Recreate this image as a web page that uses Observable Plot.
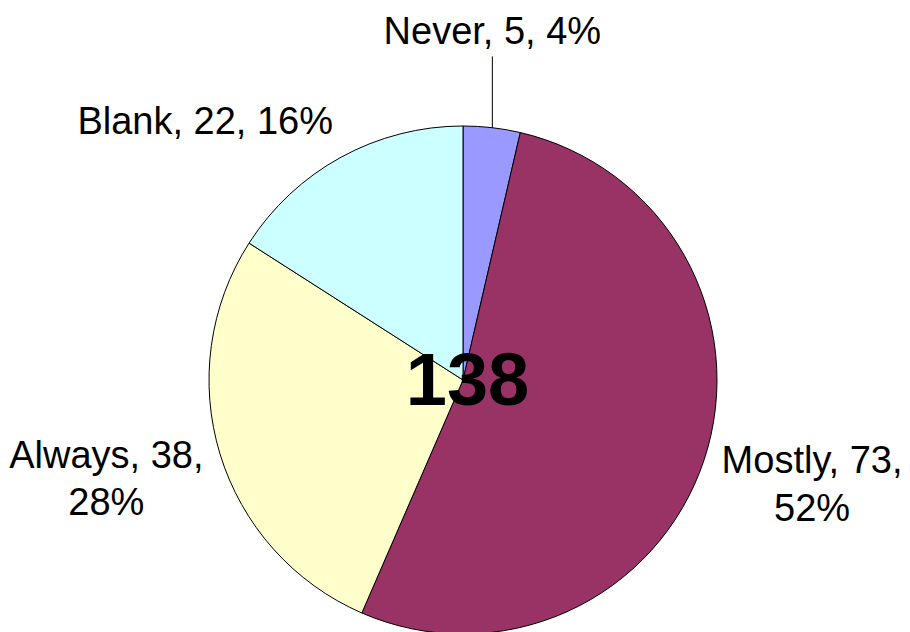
<!DOCTYPE html>
<html><head><meta charset="utf-8">
<script src="https://cdn.jsdelivr.net/npm/d3@7"></script>
<script src="https://cdn.jsdelivr.net/npm/@observablehq/plot@0.6"></script>
<style>html,body{margin:0;padding:0;background:#fff;overflow:hidden}</style>
</head><body><div id="chart"></div>
<script>
// ---- data ----
const categories = ["Never", "Mostly", "Always", "Blank"];
const counts = [5, 73, 38, 22];
const percentLabels = ["4%", "52%", "28%", "16%"];
const sliceColors = ["#9999FF", "#993366", "#FFFFCC", "#CCFFFF"];
const totalLabel = "138";

// ---- layout ----
const W = 910, H = 632;
const CX = 463, CY = 380, R = 254;          // pie centre & radius in px
const FONT = '"Liberation Sans", Arial, Helvetica, sans-serif';
const FS = 38, LH = 1.25;

const arcs = d3.pie().sort(null).value(d => d)(counts);
const canvas = document.createElement("canvas").getContext("2d");
canvas.font = `${FS}px ${FONT}`;

const total = d3.sum(counts);
const labels = categories.map((c, i) => {
  const a = (arcs[i].startAngle + arcs[i].endAngle) / 2;
  const s = Math.sin(a), co = Math.cos(a);
  const side = Math.abs(s) > 0.8;
  const text = `${c}, ${counts[i]},${side ? "\n" : " "}${percentLabels[i]}`;
  const lines = text.split("\n");
  const w = d3.max(lines, l => canvas.measureText(l).width);
  const h = lines.length * LH * FS;
  const leader = counts[i] / total < 0.05;
  const k = leader ? 1.3 : 1.07;
  const px = leader ? R * s : R * k * s, py = -R * k * co; // screen offsets (y down)
  const bx = px + (!leader && Math.abs(s) > 0.3 ? Math.sign(s) * w / 2 : 0);
  const by = py + (co > 0.5 ? -h / 2 : co < -0.5 ? h / 2 : 0.43 * FS);
  return {
    text, leader,
    x: bx / R, y: -by / R,
    ex: s, ey: co,                       // edge point (unit coords)
    lx: bx / R, ly: -(py + 4) / R        // leader end below label
  };
});

const pieMark = (index, scales) => {
  const x0 = scales.x(0), y0 = scales.y(0), r = scales.x(1) - x0;
  const g = d3.create("svg:g").attr("transform", `translate(${x0},${y0})`);
  g.selectAll("path").data(arcs).join("path")
    .attr("d", d3.arc().innerRadius(0).outerRadius(r))
    .attr("fill", (d, i) => sliceColors[i])
    .attr("stroke", "#000")
    .attr("stroke-width", 1)
    .attr("stroke-linejoin", "round");
  return g.node();
};

const chart = Plot.plot({
  width: W, height: H,
  margin: 0,
  x: {domain: [-CX / R, (W - CX) / R], axis: null},
  y: {domain: [-(H - CY) / R, CY / R], axis: null},
  marks: [
    pieMark,
    Plot.link(labels.filter(d => d.leader), {
      x1: "ex", y1: "ey", x2: "lx", y2: "ly", stroke: "#000", strokeWidth: 1
    }),
    Plot.text(labels, {
      x: "x", y: "y", text: "text",
      fontSize: FS, fontFamily: FONT, lineHeight: LH,
      textAnchor: "middle", lineAnchor: "middle", fill: "#000"
    }),
    Plot.text([totalLabel], {
      x: () => 0, y: () => 0, text: d => d,
      fontSize: 74, fontWeight: "bold", fontFamily: FONT,
      textAnchor: "middle", lineAnchor: "middle", dx: 4, dy: 1, fill: "#000"
    })
  ]
});
document.getElementById("chart").append(chart);
</script>
</body></html>
